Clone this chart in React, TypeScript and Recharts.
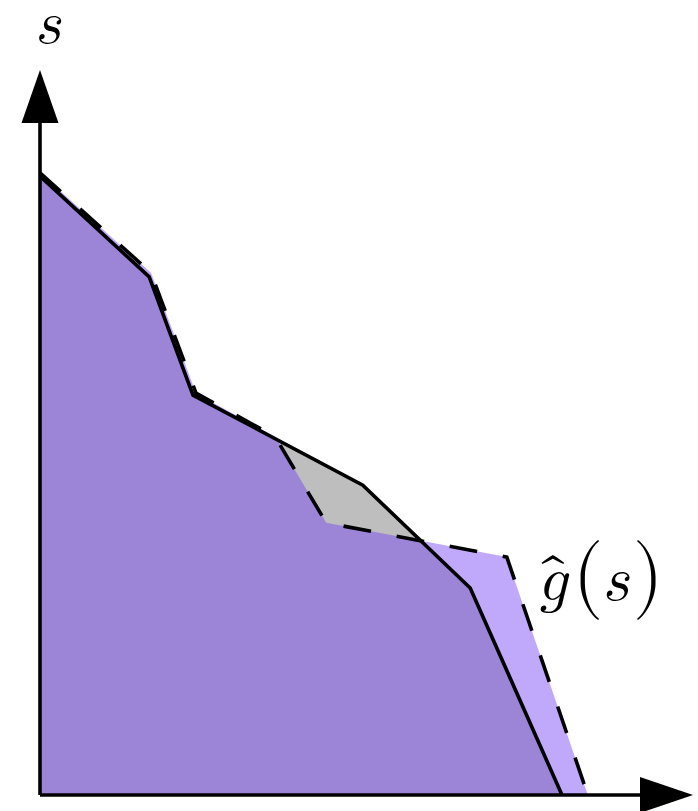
import { ComposedChart, Area, Line, XAxis, YAxis, ReferenceDot, ReferenceLine } from 'recharts';

// vertices of the solid curve g(s)
const solidS = [0, 1.82, 2.55, 5.38, 7.17, 8.7];
const solidG = [9.21, 7.71, 5.95, 4.61, 3.08, 0];

// vertices of the dashed estimate ĝ(s)
const dashedS = [0, 1.85, 2.6, 3.92, 4.77, 7.78, 9.13];
const dashedG = [9.26, 7.77, 5.98, 5.33, 4.05, 3.54, 0];

const axisMax = 10;

type Row = { s: number; solid?: number; dashed?: number };

const rows: Row[] = [];
const rowAt = (s: number) => {
    let r = rows.find((row) => row.s === s);
    if (!r) {
        r = { s };
        rows.push(r);
    }
    return r;
};
solidS.forEach((s, i) => { rowAt(s).solid = solidG[i]; });
dashedS.forEach((s, i) => { rowAt(s).dashed = dashedG[i]; });
rows.sort((a, b) => a.s - b.s);

const mathFont =
    "'Latin Modern Math', 'CMU Serif', 'Times New Roman', Times, 'Liberation Serif', 'DejaVu Serif', serif";

const lineWidth = 3.6;

const XArrow = (props: any) => {
    const { cx, cy } = props;
    return <polygon points={`${cx},${cy - 18} ${cx + 53},${cy} ${cx},${cy + 18}`} fill="#000" />;
};

const YArrow = (props: any) => {
    const { cx, cy } = props;
    return (
        <g>
            <polygon points={`${cx - 18.5},${cy} ${cx},${cy - 53} ${cx + 18.5},${cy}`} fill="#000" />
            <text
                x={cx + 10}
                y={cy - 80}
                textAnchor="middle"
                style={{ fontFamily: mathFont, fontSize: '60px' }}
            >
                𝑠
            </text>
        </g>
    );
};

const EstimateLabel = (props: any) => {
    const { cx, cy } = props;
    return (
        <text x={cx + 33} y={cy + 43} style={{ fontFamily: mathFont, fontSize: '62px' }}>
            <tspan>𝑔̂</tspan>
            <tspan style={{ fontSize: '80px' }} dx={3}>(</tspan>
            <tspan>𝑠</tspan>
            <tspan style={{ fontSize: '80px' }}>)</tspan>
        </text>
    );
};

export default function App() {
    return (
        <div style={{ position: 'absolute', left: 0, top: 0, background: '#fff' }}>
            <ComposedChart
                width={698}
                height={811}
                data={rows}
                margin={{ top: 123, right: 58, bottom: 16, left: 40 }}
            >
                <XAxis dataKey="s" type="number" domain={[0, axisMax]} hide />
                <YAxis type="number" domain={[0, axisMax]} hide />
                <Area
                    type="linear"
                    dataKey="solid"
                    stroke="none"
                    fill="#bebebe"
                    fillOpacity={1}
                    connectNulls
                    isAnimationActive={false}
                />
                <Area
                    type="linear"
                    dataKey="dashed"
                    stroke="none"
                    fill="rgb(115,62,244)"
                    fillOpacity={0.45}
                    connectNulls
                    isAnimationActive={false}
                />
                <Line
                    type="linear"
                    dataKey="solid"
                    stroke="#000"
                    strokeWidth={lineWidth}
                    dot={false}
                    connectNulls
                    isAnimationActive={false}
                />
                <Line
                    type="linear"
                    dataKey="dashed"
                    stroke="#000"
                    strokeWidth={lineWidth}
                    strokeDasharray="28 26"
                    dot={false}
                    connectNulls
                    isAnimationActive={false}
                />
                {/* axes with arrowheads */}
                <ReferenceLine x={0} stroke="#000" strokeWidth={lineWidth} ifOverflow="visible" />
                <ReferenceLine y={0} stroke="#000" strokeWidth={lineWidth} ifOverflow="visible" />
                <ReferenceDot x={axisMax} y={0} ifOverflow="visible" shape={XArrow} />
                <ReferenceDot x={0} y={axisMax} ifOverflow="visible" shape={YArrow} />
                <ReferenceDot
                    x={dashedS[5]}
                    y={dashedG[5]}
                    ifOverflow="visible"
                    shape={EstimateLabel}
                />
            </ComposedChart>
        </div>
    );
}
